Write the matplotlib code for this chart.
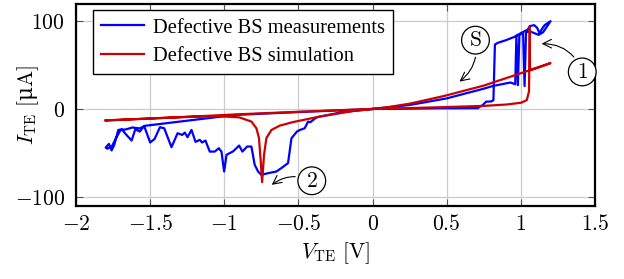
import matplotlib
matplotlib.use("Agg")
import matplotlib.pyplot as plt

plt.rcParams["mathtext.fontset"] = "cm"

meas_v = [0.0, -0.5, -0.93, -1.31, -1.54, -1.57, -1.60, -1.625, -1.67, -1.69, -1.715, -1.742, -1.76,
          -1.778, -1.80, -1.79, -1.76, -1.73, -1.70, -1.66, -1.62, -1.57, -1.54, -1.50, -1.47, -1.434,
          -1.405, -1.356, -1.315, -1.284, -1.266, -1.248, -1.221, -1.194, -1.165, -1.15, -1.127, -1.098,
          -1.064, -1.037, -1.019, -1.001, -0.985, -0.94, -0.90, -0.878, -0.846, -0.817, -0.795, -0.772,
          -0.75, -0.705, -0.648, -0.615, -0.57, -0.547, -0.51, -0.49, -0.458, -0.435, -0.42, -0.38,
          -0.357, -0.2, 0.0, 0.2, 0.45, 0.71, 0.743, 0.766, 0.80, 0.815, 0.825, 0.845, 0.90, 0.96, 1.0,
          1.047, 1.06, 1.09, 1.11, 1.125, 1.14, 1.16, 1.20, 1.15, 1.12, 1.06, 1.035, 1.025, 1.015, 0.99,
          0.98, 0.97, 0.962, 0.93, 0.81, 0.75, 0.5, 0.25, 0.0]
meas_i = [0.0, -3.5, -6.8, -14.5, -19.2, -25.6, -23, -35.8, -27.5, -23, -23.8, -40.7, -47,
          -39.6, -43.7, -45, -43, -33, -24, -23, -21, -22, -19.5, -38, -34, -20.7,
          -21.9, -43.3, -27.5, -29.4, -26.8, -32, -23.8, -37.3, -35, -38, -35.8, -48.3,
          -48.3, -44.5, -48.3, -70.9, -52, -48, -41.5, -48.3, -42.6, -42.6, -63.3, -70.9,
          -74.7, -72.8, -70.9, -67, -61.4, -33.2, -25.6, -23.8, -21.9, -14.3, -15, -9.8,
          -8.7, -3.5, 0.0, 0.3, 0.8, 1.0, 4.5, 8.3, 8.5, 10, 73, 75, 78, 82, 86,
          90, 94, 95, 92, 86, 90, 95, 99.5, 87, 84, 88, 87, 26, 86, 84,
          27, 83, 28, 30, 26, 23, 12, 4.5, 0.0]

# Simulated I-V loop (red)
sim_v = [-1.80, -1.5, -1.2, -0.9, -0.5, 0.0, 0.25, 0.5, 0.75, 0.9, 1.0, 1.04, 1.055, 1.06, 1.062,
         1.1, 1.2, 1.0, 0.83, 0.75, 0.5, 0.45, 0.25, 0.1, 0.0, -0.13, -0.36, -0.54, -0.626, -0.682,
         -0.716, -0.732, -0.745, -0.754, -0.766, -0.783, -0.817, -0.9, -1.03, -1.2, -1.5, -1.80]
sim_i = [-13, -10.8, -8.5, -6, -3.2, 0.0, 1.0, 2.2, 3.5, 5, 7, 10, 20, 93, 44,
         46, 52, 40.5, 31, 26.5, 15.5, 13.5, 6, 2, 0.0, -2.3, -8.7, -15, -18.9, -23.8,
         -33, -52, -83, -60, -33, -22, -14.3, -9.5, -8.2, -8.7, -10.8, -13]

x_ticks = [-2, -1.5, -1, -0.5, 0, 0.5, 1, 1.5]
y_ticks = [-100, 0, 100]

fig = plt.figure(figsize=(6.24, 2.79), dpi=100)
ax = fig.add_axes([76 / 624, 1 - 206 / 279, (595 - 76) / 624, (206 - 4) / 279])

ax.plot(meas_v, meas_i, color="#0000ff", lw=1.6, label="Defective BS measurements", zorder=3)
ax.plot(sim_v, sim_i, color="#cc0000", lw=1.6, label="Defective BS simulation", zorder=4)

ax.set_xlim(-2, 1.5)
ax.set_ylim(-110, 119)
ax.set_xticks(x_ticks)
ax.set_xticklabels([f"${v:g}$" for v in x_ticks])
ax.set_yticks(y_ticks)
ax.set_yticklabels([f"${v:g}$" for v in y_ticks])
ax.tick_params(direction="in", length=5, width=0.8, color="#555555", labelsize=15.5,
               top=True, right=True, pad=6)
ax.tick_params(axis="y", pad=8)
ax.grid(True, color="#cccccc", lw=0.9, zorder=0)
ax.set_axisbelow(True)
for s in ax.spines.values():
    s.set_linewidth(1.6)

ax.set_xlabel(r"$V_{\mathrm{TE}}\ [\mathrm{V}]$", fontsize=15.5, labelpad=4)
# upright micro sign as a plain text piece in a serif font
ax.set_ylabel(r"$I_{\mathrm{TE}}\ [$" + "\u03bc" + r"$\mathrm{A}]$", fontsize=15.5,
              family="DejaVu Serif")
ax.yaxis.set_label_coords((41 - 76) / 519, 0.5)

leg = ax.legend(loc="upper left", bbox_to_anchor=(93 / 624, 1 - 10 / 279),
                bbox_transform=fig.transFigure, prop={"family": "Liberation Serif", "size": 14.8},
                frameon=True, fancybox=False, framealpha=1, edgecolor="black",
                handlelength=2.1, handletextpad=0.4, borderpad=0.4, labelspacing=0.45,
                borderaxespad=0)
leg.get_frame().set_linewidth(1.0)

circ = dict(boxstyle="circle,pad=0.18", fc="white", ec="black", lw=0.9)
arr = dict(arrowstyle="->", color="black", lw=0.8)
ax.annotate(r"$1$", xy=(1.14, 74), xytext=(1.414, 42), fontsize=15.5, ha="center", va="center",
            bbox=circ, annotation_clip=False,
            arrowprops=dict(arr, connectionstyle="arc3,rad=0.35", shrinkA=2, shrinkB=0))
ax.annotate(r"$2$", xy=(-0.68, -86), xytext=(-0.41, -81.4), fontsize=15.5, ha="center", va="center",
            bbox=circ,
            arrowprops=dict(arr, connectionstyle="arc3,rad=0.3", shrinkA=2, shrinkB=0))
ax.annotate(r"$\mathrm{S}$", xy=(0.586, 31), xytext=(0.694, 78), fontsize=15.5, ha="center",
            va="center", bbox=circ,
            arrowprops=dict(arr, connectionstyle="arc3,rad=-0.3", shrinkA=2, shrinkB=0))

fig.savefig("out.png", dpi=100)
